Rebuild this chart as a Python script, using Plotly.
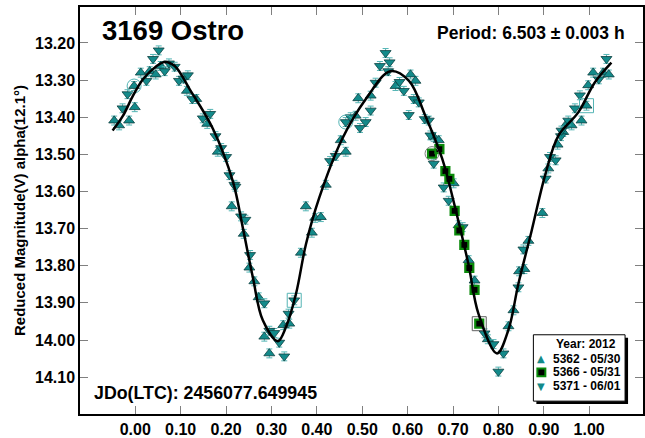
import plotly.graph_objects as go

# ---------------- data ----------------
phase_5362 = [-0.0465, -0.0356, -0.0136, -0.0011, -0.0026, 0.0121, 0.0318, 0.045, 0.056, 0.1137,
              0.1344, 0.1585, 0.1818, 0.2125, 0.2389, 0.2514, 0.2623, 0.2718, 0.2843, 0.2953,
              0.3260, 0.3392, 0.3649, 0.3758, 0.389, 0.3963, 0.4088, 0.4198, 0.4527, 0.4637,
              0.4856, 0.4913, 0.5186, 0.5734, 0.6064, 0.6173, 0.6575, 0.6685, 0.7014, 0.7124,
              0.7344, 0.7475, 0.7767, 0.8222, 0.8332, 0.8456, 0.8573, 0.8661, 0.8968, 0.9100,
              0.9304, 0.9429, 0.9502, 0.9612, 0.9831, 0.9941, 0.9978, 1.0088, 1.0307, 1.0432]
mag_5362 = [13.409, 13.422, 13.409, 13.373, 13.316, 13.280, 13.276, 13.285, 13.262, 13.329,
            13.351, 13.418, 13.493, 13.640, 13.714, 13.805, 13.842, 13.885, 13.991, 14.036,
            13.960, 13.956, 13.765, 13.640, 13.711, 13.671, 13.669, 13.582, 13.462, 13.493,
            13.396, 13.349, 13.342, 13.316, 13.285, 13.302, 13.453, 13.462, 13.578, 13.691,
            13.785, 13.840, 13.998, 13.963, 13.920, 13.815, 13.809, 13.733, 13.658, 13.538,
            13.474, 13.440, 13.418, 13.422, 13.409, 13.369, 13.314, 13.280, 13.280, 13.285]

phase_5366 = [0.6538, 0.6700, 0.6832, 0.6920, 0.7036, 0.7139, 0.7249, 0.7359, 0.7475, 0.7578]
mag_5366 = [13.498, 13.486, 13.545, 13.566, 13.652, 13.705, 13.744, 13.806, 13.865, 13.956]

phase_5371 = [-0.0281, -0.0171, 0.0246, 0.0391, 0.0516, 0.0648, 0.0742, 0.0867, 0.0962, 0.1065,
              0.1159, 0.1256, 0.1488, 0.1651, 0.1767, 0.1892, 0.2002, 0.2075, 0.2184, 0.2206,
              0.2331, 0.2426, 0.2529, 0.2843, 0.2953, 0.3063, 0.3172, 0.3282, 0.3377, 0.3502,
              0.4292, 0.4417, 0.4637, 0.4746, 0.4951, 0.5076, 0.5186, 0.5295, 0.5390, 0.5515,
              0.5603, 0.5572, 0.5822, 0.5917, 0.6026, 0.6136, 0.6246, 0.6378, 0.6466, 0.6503,
              0.6575, 0.6795, 0.6905, 0.7212, 0.7695, 0.7892, 0.8000, 0.8112, 0.8441, 0.8551,
              0.9041, 0.9137, 0.9261, 0.9378, 0.9390, 0.9539, 0.9686, 0.9796, 1.0212, 1.0381]
mag_5371 = [13.376, 13.338, 13.302, 13.243, 13.220, 13.276, 13.255, 13.264, 13.302, 13.296,
            13.287, 13.351, 13.403, 13.391, 13.451, 13.483, 13.507, 13.556, 13.582, 13.587,
            13.667, 13.676, 13.771, 13.901, 13.975, 13.981, 14.007, 14.044, 13.929, 13.893,
            13.518, 13.504, 13.413, 13.400, 13.429, 13.413, 13.382, 13.307, 13.262, 13.227,
            13.252, 13.276, 13.305, 13.329, 13.394, 13.351, 13.360, 13.405, 13.409, 13.449,
            13.525, 13.589, 13.625, 13.696, 13.982, 14.011, 14.085, 14.036, 13.858, 13.756,
            13.565, 13.507, 13.516, 13.451, 13.436, 13.409, 13.376, 13.341, 13.298, 13.243]

# fitted light curve
fit_phase = [-0.050, -0.027, -0.005, 0.017, 0.047, 0.065, 0.087, 0.120, 0.171, 0.215,
             0.237, 0.259, 0.281, 0.314, 0.332, 0.354, 0.376, 0.405, 0.456, 0.508,
             0.562, 0.603, 0.639, 0.676, 0.705, 0.734, 0.756, 0.797, 0.822, 0.844,
             0.873, 0.903, 0.932, 0.976, 1.012, 1.049]
fit_mag = [13.436, 13.396, 13.342, 13.298, 13.262, 13.251, 13.262, 13.325, 13.431, 13.573,
           13.698, 13.831, 13.947, 14.003, 13.965, 13.876, 13.742, 13.618, 13.458, 13.351,
           13.276, 13.302, 13.396, 13.511, 13.645, 13.796, 13.929, 14.036, 13.973, 13.849,
           13.707, 13.556, 13.450, 13.387, 13.307, 13.253]

# session start markers
circ_phase = [-0.0026, 0.4637]
circ_mag = [13.316, 13.413]
sq_phase = [0.3502, 0.9941]
sq_mag = [13.893, 13.369]
gcirc_phase = [0.6538]
gcirc_mag = [13.498]
gsq_phase = [0.7578]
gsq_mag = [13.956]

x_ticks = [0.0, 0.1, 0.2, 0.3, 0.4, 0.5, 0.6, 0.7, 0.8, 0.9, 1.0]
x_ticklabels = ["0.00", "0.10", "0.20", "0.30", "0.40", "0.50", "0.60", "0.70", "0.80", "0.90", "1.00"]
y_ticks = [13.2, 13.3, 13.4, 13.5, 13.6, 13.7, 13.8, 13.9, 14.0, 14.1]
y_ticklabels = ["13.20", "13.30", "13.40", "13.50", "13.60", "13.70", "13.80", "13.90", "14.00", "14.10"]

legend_title = "Year: 2012"
legend_names = ["5362 - 05/30", "5366 - 05/31", "5371 - 06/01"]

# ---------------- styling ----------------
W, H = 645, 438
ML, MR, MT, MB = 80, 0, 7, 20
FONT = "Liberation Sans, Arial, sans-serif"
TEAL = "#138a8a"
TEAL_EDGE = "#0b3f3f"
ERR = "#55b5b5"

def px_x(p):
    return (p - ML) / (W - ML - MR)

def px_y(p):
    return (H - MB - p) / (H - MT - MB)

fig = go.Figure()

err = dict(type="constant", value=0.012, color=ERR, thickness=1, width=3)

fig.add_trace(go.Scatter(x=phase_5362, y=mag_5362, mode="markers", showlegend=False,
                         marker=dict(symbol="triangle-up", size=9.5, color=TEAL,
                                     line=dict(color=TEAL_EDGE, width=0.8)),
                         error_y=err))
fig.add_trace(go.Scatter(x=phase_5371, y=mag_5371, mode="markers", showlegend=False,
                         marker=dict(symbol="triangle-down", size=9.5, color=TEAL,
                                     line=dict(color=TEAL_EDGE, width=0.8)),
                         error_y=err))
fig.add_trace(go.Scatter(x=phase_5366, y=mag_5366, mode="markers", showlegend=False,
                         marker=dict(symbol="square", size=8, color="black",
                                     line=dict(color="#0a8a0a", width=2.2)),
                         error_y=dict(type="constant", value=0.01, color="#0a8a0a", thickness=1, width=3)))

fig.add_trace(go.Scatter(x=circ_phase, y=circ_mag, mode="markers", showlegend=False,
                         marker=dict(symbol="circle-open", size=14, color=ERR, line=dict(width=1))))
fig.add_trace(go.Scatter(x=sq_phase, y=sq_mag, mode="markers", showlegend=False,
                         marker=dict(symbol="square-open", size=14, color=ERR, line=dict(width=1))))
fig.add_trace(go.Scatter(x=gcirc_phase, y=gcirc_mag, mode="markers", showlegend=False,
                         marker=dict(symbol="circle-open", size=14, color="#808080", line=dict(width=1))))
fig.add_trace(go.Scatter(x=gsq_phase, y=gsq_mag, mode="markers", showlegend=False,
                         marker=dict(symbol="square-open", size=14, color="#606060", line=dict(width=1))))

fig.add_trace(go.Scatter(x=fit_phase, y=fit_mag, mode="lines", showlegend=False,
                         line=dict(color="black", width=2.5, shape="spline", smoothing=1.0)))

axis_common = dict(showgrid=False, zeroline=False, showline=True, linecolor="black", linewidth=1.5,
                   mirror="ticks", ticks="inside", ticklen=8, tickwidth=1, tickcolor="#808080",
                   tickfont=dict(family=FONT, size=16, color="black", weight="bold"))

fig.update_xaxes(range=[-0.1218, 1.1186], tickvals=x_ticks, ticktext=x_ticklabels, **axis_common)
fig.update_yaxes(range=[14.1992, 13.1032], tickvals=y_ticks, ticktext=y_ticklabels,
                 title=dict(text="Reduced Magnitude(V) alpha(12.1°)", standoff=6,
                            font=dict(family=FONT, size=15, color="black", weight="bold")),
                 **axis_common)

annotations = [
    dict(text="3169 Ostro", x=px_x(100), y=px_y(31), xanchor="left", yanchor="middle",
         font=dict(family=FONT, size=27.5, color="black", weight="bold")),
    dict(text="Period: 6.503 ± 0.003 h", x=px_x(629), y=px_y(33), xanchor="right", yanchor="middle",
         font=dict(family=FONT, size=17.5, color="black", weight="bold")),
    dict(text="JDo(LTC): 2456077.649945", x=px_x(92), y=px_y(397), xanchor="left", yanchor="middle",
         font=dict(family=FONT, size=17.8, color="black", weight="bold")),
    # legend
    dict(text=legend_title, x=px_x(588), y=px_y(347), xanchor="center", yanchor="middle",
         font=dict(family=FONT, size=12, color="black", weight="bold")),
    dict(text=legend_names[0], x=px_x(553), y=px_y(362), xanchor="left", yanchor="middle",
         font=dict(family=FONT, size=12, color="black", weight="bold")),
    dict(text=legend_names[1], x=px_x(553), y=px_y(376), xanchor="left", yanchor="middle",
         font=dict(family=FONT, size=12, color="black", weight="bold")),
    dict(text=legend_names[2], x=px_x(553), y=px_y(390), xanchor="left", yanchor="middle",
         font=dict(family=FONT, size=12, color="black", weight="bold")),
    dict(text="▲", x=px_x(543), y=px_y(362), xanchor="center", yanchor="middle",
         font=dict(family="DejaVu Sans", size=10, color=TEAL)),
    dict(text="▼", x=px_x(543), y=px_y(390), xanchor="center", yanchor="middle",
         font=dict(family="DejaVu Sans", size=10, color=TEAL)),
]
for a in annotations:
    a.update(xref="paper", yref="paper", showarrow=False)

shapes = [
    dict(type="rect", xref="paper", yref="paper", x0=px_x(538), x1=px_x(630), y0=px_y(408), y1=px_y(341),
         fillcolor="black", line=dict(width=0), layer="above"),
    dict(type="rect", xref="paper", yref="paper", x0=px_x(535), x1=px_x(627), y0=px_y(405), y1=px_y(338),
         fillcolor="white", line=dict(color="black", width=1), layer="above"),
    dict(type="rect", xref="paper", yref="paper", x0=px_x(539), x1=px_x(547), y0=px_y(380), y1=px_y(372),
         fillcolor="black", line=dict(color="#0a8a0a", width=2), layer="above"),
]

fig.update_layout(width=W, height=H, autosize=False,
                  margin=dict(l=ML, r=MR, t=MT, b=MB),
                  paper_bgcolor="white", plot_bgcolor="white",
                  annotations=annotations, shapes=shapes, showlegend=False)

fig.write_html("out.html", config={"displayModeBar": False},
               post_script="document.body.style.margin='0';document.body.style.overflow='hidden';")
